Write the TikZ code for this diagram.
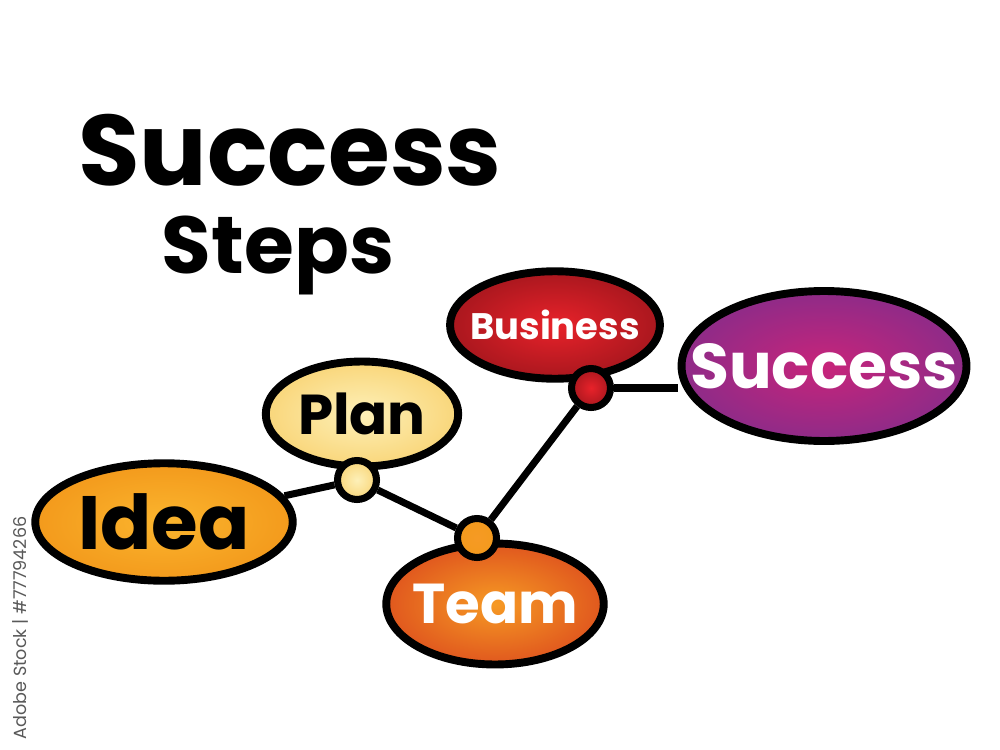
\documentclass[tikz,border=0pt]{standalone}
\usepackage{fontspec}
\setmainfont{Poppins}
\usetikzlibrary{shapes.geometric, backgrounds}

\definecolor{ideaIn}{HTML}{FBB52E}
\definecolor{ideaOut}{HTML}{F39A1C}
\definecolor{planIn}{HTML}{FDF0B8}
\definecolor{planOut}{HTML}{F9D67A}
\definecolor{teamIn}{HTML}{F69A24}
\definecolor{teamOut}{HTML}{E0571E}
\definecolor{busIn}{HTML}{E8222A}
\definecolor{busOut}{HTML}{A9171E}
\definecolor{sucIn}{HTML}{C8247A}
\definecolor{sucOut}{HTML}{8E2B88}

\begin{document}
\begin{tikzpicture}[x=0.02cm, y=-0.02cm,
  stepnode/.style={ellipse, draw=black, line width=4.5pt, inner sep=0pt},
  dot/.style={circle, draw=black, line width=4pt, minimum size=0.78cm, inner sep=0pt},
  link/.style={line width=4pt}]
  \useasboundingbox (0,0) rectangle (1000,750);

  % Title
  \node (title) at (290,150) {\fontsize{57}{57}\selectfont\bfseries Success};
  \node (subtitle) at (278,255) {\fontsize{46}{46}\selectfont\bfseries Steps};

  % Steps
  \node[stepnode, minimum width=5.15cm, minimum height=2.35cm,
        inner color=ideaIn, outer color=ideaOut] (idea) at (164,522)
        {\makebox[0pt]{\fontsize{43}{43}\selectfont\bfseries Idea}};
  \node[stepnode, minimum width=3.85cm, minimum height=2.1cm,
        inner color=planIn, outer color=planOut] (plan) at (362,414)
        {\makebox[0pt]{\fontsize{32}{32}\selectfont\bfseries Plan}};
  \node[stepnode, minimum width=4.35cm, minimum height=2.42cm,
        inner color=teamIn, outer color=teamOut, text=white] (team) at (495,604)
        {\makebox[0pt]{\fontsize{32}{32}\selectfont\bfseries Team}};
  \node[stepnode, minimum width=4.2cm, minimum height=2.15cm,
        inner color=busIn, outer color=busOut, text=white] (business) at (555,325)
        {\makebox[0pt]{\fontsize{21}{21}\selectfont\bfseries Business}};
  \node[stepnode, minimum width=5.7cm, minimum height=3cm,
        inner color=sucIn, outer color=sucOut, text=white] (success) at (824,366)
        {\makebox[0pt]{\fontsize{36}{36}\selectfont\bfseries Success}};

  % Dots
  \node[dot, inner color=planIn, outer color=planOut] (plandot) at (357,480) {};
  \node[dot, inner color=teamIn, outer color=ideaOut] (teamdot) at (477,538) {};
  \node[dot, inner color=busIn, outer color=busOut] (busdot) at (591,388) {};

  % Links
  \begin{scope}[on background layer]
    \draw[link] (idea) -- (plandot);
    \draw[link] (plandot) -- (teamdot);
    \draw[link] (teamdot) -- (busdot);
    \draw[link] (busdot) -- (success.west |- busdot);
  \end{scope}

  % Stock id
  \node[rotate=90, text=black!65, font=\fontsize{10}{10}\selectfont] (stockid)
    at (20,628) {Adobe Stock | \#77794266};
\end{tikzpicture}
\end{document}
